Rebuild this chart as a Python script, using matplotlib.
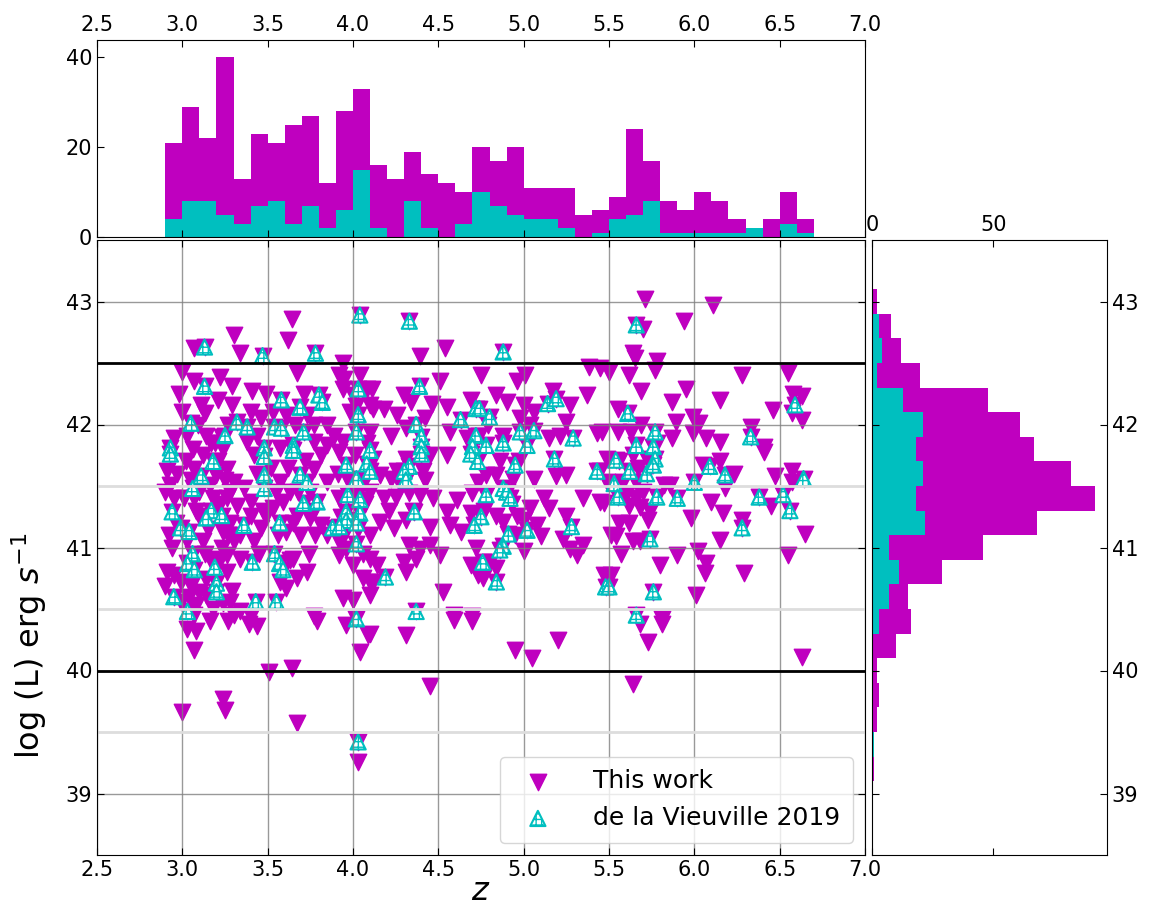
import numpy as np
import matplotlib
matplotlib.use("Agg")
import matplotlib.pyplot as plt

# ---------------- data ----------------
# "This work" points that are not in de la Vieuville 2019 (z, log L)
work_only = [
    (3.64,42.86),(3.62,42.69),(3.30,42.73),(3.34,42.58),(3.07,42.62),(3.00,42.43),(3.07,42.35),(3.22,42.39),
    (3.29,42.31),(3.41,42.27),(3.49,42.25),(3.67,42.42),(3.94,42.50),(3.95,42.37),(4.04,42.40),(3.00,42.10),
    (3.11,42.16),(3.13,42.09),(3.29,42.16),(3.40,42.10),(3.46,42.05),(3.53,42.10),(3.61,42.08),(3.73,42.08),
    (3.77,42.00),(3.85,42.00),(3.89,41.91),(3.94,41.86),(3.94,42.29),(4.00,42.24),(4.08,42.29),(4.10,42.16),
    (4.10,41.94),(2.95,41.89),(3.03,41.91),(3.14,41.91),(3.19,41.85),(3.38,41.86),(3.44,41.91),(3.57,41.81),
    (3.77,41.86),(3.85,41.83),
    (4.39,42.56),(4.54,42.62),(4.51,42.35),(4.75,42.40),(4.96,42.35),(5.01,42.40),(5.38,42.47),(5.45,42.46),
    (4.11,42.29),(4.12,42.13),(4.30,42.24),(4.34,42.18),(4.46,42.17),(4.55,42.14),(4.69,42.20),(4.84,42.24),
    (4.90,42.18),(4.18,42.13),(4.26,42.08),(4.31,41.97),(4.42,42.05),(4.22,41.91),(5.17,42.27),(5.27,42.16),
    (5.37,42.24),(5.43,41.93),(5.25,42.02),(5.00,42.16),(5.06,42.10),(4.98,42.05),(5.04,42.00),(4.57,41.94),
    (4.67,41.89),(4.74,41.91),(4.88,41.91),(5.15,41.89),(5.21,41.91),
    (5.71,43.02),(6.11,42.97),(5.94,42.84),(5.70,42.78),(5.64,42.58),(5.65,42.54),(5.78,42.52),(5.50,42.43),
    (5.62,42.40),(5.77,42.44),(6.28,42.40),(6.55,42.42),(5.69,42.27),(5.95,42.29),(5.55,42.13),(5.87,42.18),
    (6.15,42.20),(6.46,42.12),(6.58,42.25),(6.63,42.23),(6.63,42.04),(6.57,42.09),(5.89,42.02),(5.99,42.06),
    (6.03,42.01),(6.33,41.98),(6.41,41.82),(6.15,41.86),(6.07,41.89),(5.99,41.93),(5.46,41.94),(5.55,41.94),
    (5.63,41.94),(5.87,41.89),
    (2.91,41.62),(2.93,41.51),(2.95,41.40),(2.90,41.45),(3.07,41.64),(3.07,41.40),(3.10,41.45),(3.16,41.51),
    (3.20,41.59),(3.26,41.64),(3.30,41.53),(3.36,41.48),(3.26,41.40),(3.32,41.34),(3.40,41.37),(3.10,41.26),
    (3.24,41.13),(3.30,41.05),(3.34,41.10),(3.42,41.05),(3.46,41.16),(3.49,41.26),(3.40,41.26),(3.12,41.05),
    (3.16,40.91),(3.26,40.94),(3.34,40.91),(3.10,40.64),(3.14,40.74),(3.08,40.53),(3.18,40.50),(3.28,40.56),
    (3.30,40.45),(3.34,40.48),(3.40,40.44),(2.95,40.78),(2.91,40.80),(2.90,40.69),(2.99,40.72),(3.05,40.69),
    (3.14,40.61),(2.99,40.56),(3.07,40.45),
    (3.57,41.53),(3.63,41.45),(3.59,41.37),(3.53,41.32),(3.67,41.26),(3.61,41.13),(3.69,41.10),(3.75,41.24),
    (3.81,41.18),(3.85,41.10),(3.92,41.05),(3.96,40.99),(3.92,41.40),(3.85,41.53),(3.77,41.64),(3.81,41.75),
    (3.92,41.78),(4.00,41.43),(4.10,41.10),(4.10,40.91),(4.00,40.86),(3.92,40.94),(3.65,40.91),(3.73,40.80),
    (3.67,40.75),(3.57,40.72),(3.61,40.67),(3.77,40.44),(3.94,40.59),(4.00,40.57),(4.10,40.72),(4.10,40.61),
    (4.12,41.72),(4.16,41.59),(4.22,41.56),(4.26,41.62),(4.31,41.72),(4.41,41.62),(4.45,41.75),(4.55,41.75),
    (4.10,41.45),(4.18,41.40),(4.25,41.41),(4.33,41.44),(4.39,41.43),(4.47,41.40),(4.55,41.29),(4.61,41.39),
    (4.70,41.44),(4.73,41.53),(4.78,41.59),(4.84,41.59),(4.94,41.56),(5.06,41.56),(5.19,41.58),(5.25,41.59),
    (5.35,41.40),(5.45,41.37),(5.12,41.40),(5.15,41.32),(5.25,41.26),(4.84,41.26),(4.88,41.21),(4.96,41.26),
    (5.00,41.22),(5.04,41.32),(5.08,41.18),(4.16,41.21),(4.24,41.16),(4.31,41.22),(4.45,41.17),(4.57,41.18),
    (4.63,41.13),(4.69,41.28),(5.10,41.09),(5.00,40.97),(5.27,40.99),(5.31,40.94),(5.35,41.02),(5.23,41.07),
    (4.33,41.02),(4.39,40.99),(4.45,41.02),(4.37,40.91),(4.51,40.94),(4.30,40.88),(4.31,40.80),(4.14,40.86),
    (4.12,40.72),(4.69,40.86),(4.73,40.78),(4.76,40.75),(4.80,40.88),(4.84,40.83),(5.47,40.78),(4.53,40.64),
    (4.59,40.45),(4.70,40.44),
    (5.49,41.72),(5.56,41.70),(5.64,41.75),(5.72,41.72),(5.45,41.62),(5.49,41.53),(5.58,41.53),(5.66,41.53),
    (5.70,41.45),(5.82,41.51),(5.86,41.51),(5.60,41.43),(5.66,41.40),(5.68,41.33),(5.62,41.34),(5.47,41.36),
    (6.05,41.67),(6.15,41.70),(6.23,41.60),(6.18,41.48),(6.10,41.37),(6.17,41.28),(5.98,41.24),(6.28,41.22),
    (6.41,41.78),(6.47,41.58),(6.57,41.62),(6.57,41.53),(6.45,41.34),(5.56,41.20),(5.54,41.09),(5.51,41.10),
    (5.73,41.22),(5.68,41.05),(5.57,40.95),(5.80,40.86),(5.90,40.94),(6.02,40.97),(6.07,40.87),(6.06,40.79),
    (6.15,41.06),(6.29,40.79),(6.55,40.94),(6.65,41.11),(6.01,40.61),(5.51,40.78),(5.81,40.42),
    (3.03,40.34),(3.08,40.32),(3.07,40.17),(3.16,40.40),(3.27,40.40),(3.39,40.38),(3.44,40.36),(3.79,40.40),
    (3.96,40.37),(4.09,40.29),(4.04,40.15),(3.51,39.99),(3.64,40.02),(3.00,39.66),(3.24,39.77),(3.25,39.68),
    (3.67,39.57),(4.03,39.26),(4.10,40.30),(4.31,40.29),(4.59,40.41),(4.70,40.40),(4.95,40.17),(5.05,40.10),
    (5.20,40.25),(4.45,39.87),(5.68,40.38),(5.81,40.38),(5.73,40.23),(6.63,40.11),(5.64,39.89),
    # dense-core points, partly hidden in the reference
    (3.21,41.70),(3.24,41.80),(3.27,42.00),(3.22,41.35),(3.28,41.20),(3.23,41.00),(3.26,40.80),(3.29,40.65),
    (3.25,41.55),(3.28,41.45),(3.21,42.20),(3.23,41.90),(3.27,41.10),(3.22,40.90),(3.24,40.55),
    (3.02,41.70),(3.05,41.55),(3.08,41.30),(3.03,41.05),(3.06,41.80),(3.09,42.00),(3.01,41.40),(3.04,40.60),
    (3.12,41.75),(3.15,41.15),(3.18,41.40),(3.13,40.95),(3.17,41.85),
    (2.92,41.10),(2.96,41.20),(2.97,41.60),(2.94,41.00),(2.98,42.25),
    (3.44,41.60),(3.47,41.30),(3.42,41.75),(3.45,40.95),
    (3.52,41.65),(3.55,41.45),(3.56,41.10),
    (3.62,41.65),(3.65,41.20),(3.68,41.45),(3.63,40.90),(3.66,42.00),
    (3.72,41.70),(3.75,41.45),(3.78,41.10),(3.74,40.95),(3.71,42.25),(3.77,41.30),
    (3.91,41.60),(3.93,41.25),(3.97,41.55),(3.95,41.10),(3.98,42.10),(3.92,42.40),
    (4.01,41.75),(4.05,41.50),(4.07,41.35),(4.03,41.15),(4.06,40.95),(4.08,41.85),(4.02,42.15),(4.06,40.75),
    (4.21,41.30),(4.35,41.30),(4.42,41.55),(4.28,41.50),
    (4.77,41.30),(4.72,41.00),(4.79,42.00),
    (4.93,41.35),(4.97,41.70),(4.95,41.10),(4.86,41.70),
    (5.62,41.20),(5.67,41.65),(5.69,42.00),(5.64,41.05),
    (5.74,41.30),(5.78,41.85),
]

# de la Vieuville 2019 points (also part of "This work")
dlv = [
    (3.13,42.63),(3.47,42.56),(3.78,42.58),(4.04,42.89),(3.13,42.31),(3.58,42.20),(3.69,42.14),(3.80,42.24),
    (3.82,42.18),(3.05,42.01),(3.32,42.02),(3.38,41.98),(3.25,41.91),(3.54,41.98),(3.58,41.97),(3.71,41.94),
    (3.65,41.83),(4.03,42.29),(4.03,42.08),(4.02,41.94),(4.10,41.79),(2.93,41.81),(3.48,41.81),
    (4.33,42.84),(4.88,42.59),(4.39,42.31),(4.72,42.13),(4.74,42.13),(4.80,42.06),(4.63,42.04),(4.37,42.00),
    (4.40,41.90),(5.14,42.17),(5.19,42.21),(4.98,41.94),(5.06,41.95),(5.29,41.89),(4.72,41.91),(4.78,41.83),
    (4.88,41.85),(5.02,41.83),(4.40,41.82),(4.70,41.82),
    (5.66,42.81),(5.61,42.09),(6.59,42.16),(6.33,41.90),(5.77,41.94),(5.66,41.83),(5.76,41.82),
    (2.93,41.76),(3.18,41.70),(3.11,41.58),(3.06,41.48),(3.48,41.74),(3.48,41.59),(3.48,41.48),(3.65,41.79),
    (3.69,41.59),(3.73,41.53),(3.71,41.36),(3.79,41.37),(3.96,41.67),(4.08,41.68),(4.10,41.62),(4.02,41.56),
    (3.97,41.43),(4.04,41.39),(3.96,41.29),(4.04,41.28),(3.96,41.22),(4.02,41.20),(2.94,41.29),(3.17,41.30),
    (3.23,41.26),(3.14,41.24),(3.36,41.18),(2.99,41.16),(3.04,41.13),(3.57,41.20),(3.88,41.16),(3.92,41.17),
    (4.02,41.03),(3.06,40.95),(3.03,40.87),(3.07,40.82),(3.19,40.84),(3.20,40.71),(3.20,40.64),(3.41,40.88),
    (3.54,40.95),(3.57,40.87),(3.59,40.82),(2.95,40.60),(3.03,40.48),(3.43,40.56),(3.55,40.56),(4.02,40.42),
    (4.40,41.76),(4.33,41.66),(4.30,41.62),(4.31,41.55),(4.69,41.76),(4.73,41.70),(4.95,41.67),(5.18,41.72),
    (5.43,41.62),(4.78,41.43),(4.88,41.48),(4.90,41.45),(4.92,41.40),(4.36,41.29),(4.75,41.25),(4.71,41.18),
    (4.91,41.11),(4.88,41.01),(4.86,40.98),(5.02,41.14),(5.28,41.17),(4.76,40.88),(4.84,40.72),(4.19,40.76),
    (4.37,40.48),(5.48,40.68),
    (5.77,41.72),(5.54,41.71),(5.62,41.62),(5.72,41.60),(5.76,41.67),(5.53,41.52),(5.55,41.41),(5.78,41.41),
    (5.90,41.40),(6.00,41.53),(6.09,41.66),(6.18,41.59),(6.38,41.41),(6.52,41.43),(6.56,41.30),(6.64,41.56),
    (6.28,41.16),(5.74,41.07),(5.50,40.68),(5.76,40.64),(5.66,40.45),
    (4.03,39.42),
]

# redshift histogram (bins of 0.1 from 2.9 to 6.7)
z_bin_start, z_bin_width = 2.9, 0.1
z_counts_work = [21, 29, 22, 40, 13, 23, 21, 25, 27, 12, 28, 33, 16, 13, 19, 14, 12, 10, 20, 17,
                 20, 11, 11, 11, 5, 6, 9, 24, 17, 8, 6, 10, 8, 4, 2, 4, 10, 4]
z_counts_dlv = [4, 8, 8, 5, 3, 7, 8, 3, 7, 2, 6, 15, 2, 0, 8, 2, 0, 3, 10, 7,
                5, 4, 4, 2, 0, 1, 4, 5, 8, 1, 1, 1, 1, 1, 2, 0, 3, 1]

# luminosity histogram (bins of 0.2 from 39.1 to 43.1)
L_bin_start, L_bin_width = 39.1, 0.2
L_counts_work = [1, 1, 2, 3, 2, 10, 16, 15, 29, 46, 68, 92, 82, 67, 61, 48, 20, 12, 8, 2]
L_counts_dlv = [0, 1, 0, 0, 0, 0, 3, 7, 11, 7, 22, 18, 21, 18, 21, 13, 2, 4, 3, 0]

x_ticks = [2.5, 3.0, 3.5, 4.0, 4.5, 5.0, 5.5, 6.0, 6.5, 7.0]
y_ticks = [39, 40, 41, 42, 43]
black_lines = [42.5, 40.0]
grey_lines = [41.5, 40.5, 39.5]

# ---------------- figure ----------------
W, H = 1152, 919
fig = plt.figure(figsize=(W / 100, H / 100), dpi=100)

ax = fig.add_axes([97 / W, 64 / H, 768 / W, 615 / H])
axt = fig.add_axes([97 / W, 682 / H, 768 / W, 197 / H], sharex=ax)
axr = fig.add_axes([872 / W, 64 / H, 235 / W, 615 / H], sharey=ax)

z_all = [p[0] for p in work_only] + [p[0] for p in dlv]
L_all = [p[1] for p in work_only] + [p[1] for p in dlv]
z_d = [p[0] for p in dlv]
L_d = [p[1] for p in dlv]

ax.scatter(z_all, L_all, marker='v', s=140, color='m', linewidths=1.0, label='This work', zorder=1)
ax.scatter(z_d, L_d, marker='^', s=120, facecolors='white', edgecolors='c', linewidths=1.5,
           hatch='+++', label='de la Vieuville 2019', zorder=1)

for yv in black_lines:
    ax.axhline(yv, color='black', lw=2)
for yv in grey_lines:
    ax.axhline(yv, color='#dddddd', lw=2)

ax.grid(True, color='gray', lw=1.0, alpha=0.8)
ax.set_xlim(2.5, 7.0)
ax.set_ylim(38.5, 43.5)
ax.set_xticks(x_ticks)
ax.set_yticks(y_ticks)
ax.tick_params(direction='in', labelsize=15, top=True, right=True, length=5)
ax.set_xlabel('$z$', fontsize=23, labelpad=-3)
ax.set_ylabel('log (L) erg $s^{-1}$', fontsize=23)
ax.yaxis.set_label_coords(-0.062, 0.34)
leg = ax.legend(loc='lower right', fontsize=18, borderpad=0.5, handletextpad=1.2)
try:
    leg.legend_handles[1]._hatch_color = (0.0, 0.0, 0.0, 1.0)
except Exception:
    pass

# top histogram
z_edges = z_bin_start + z_bin_width * np.arange(len(z_counts_work) + 1)
axt.stairs(z_counts_work, z_edges, fill=True, color='m')
axt.stairs(z_counts_dlv, z_edges, fill=True, color='c')
axt.set_ylim(0, 43.8)
axt.set_yticks([0, 20, 40])
axt.tick_params(direction='in', labelsize=15, top=True, labeltop=True, labelbottom=False, length=5)

# right histogram
L_edges = L_bin_start + L_bin_width * np.arange(len(L_counts_work) + 1)
axr.stairs(L_counts_work, L_edges, fill=True, color='m', orientation='horizontal')
axr.stairs(L_counts_dlv, L_edges, fill=True, color='c', orientation='horizontal')
axr.set_xlim(0, 97)
axr.set_xticks([0, 50])
axr.tick_params(direction='in', labelsize=15, top=True, labeltop=True, labelbottom=False,
                left=True, right=True, labelleft=False, labelright=True, length=5)

fig.savefig('out.png', dpi=100)
